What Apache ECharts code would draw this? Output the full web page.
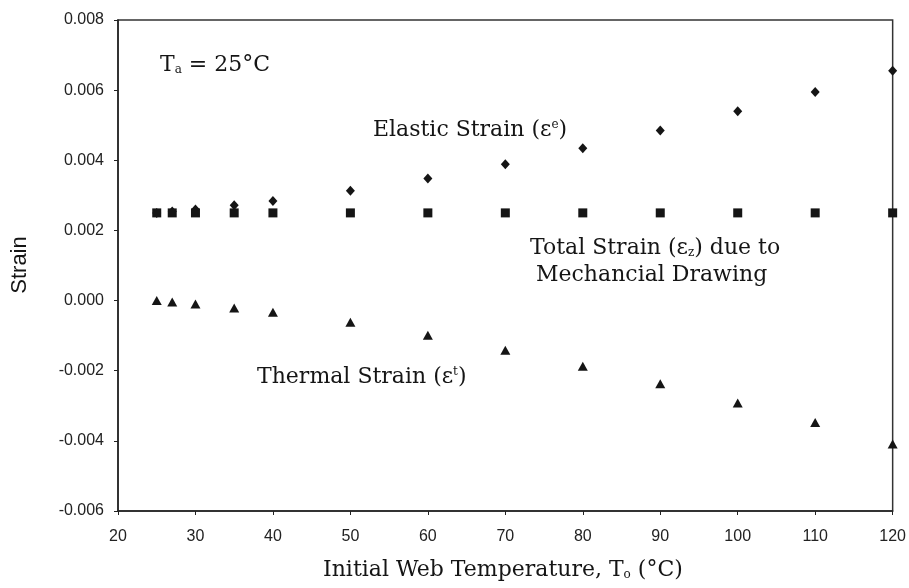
<!DOCTYPE html>
<html>
<head>
<meta charset="utf-8">
<script src="https://cdn.jsdelivr.net/npm/echarts@6/dist/echarts.min.js"></script>
<style>
  html, body { margin: 0; padding: 0; background: #fff; }
  #chart { width: 909px; height: 588px; }
</style>
</head>
<body>
<div id="chart"></div>
<script>
// Initial web temperature (°C)
const temperatures = [25, 27, 30, 35, 40, 50, 60, 70, 80, 90, 100, 110, 120];
// Strain components
const totalStrain   = [0.0025, 0.0025, 0.0025, 0.0025, 0.0025, 0.0025, 0.0025, 0.0025, 0.0025, 0.0025, 0.0025, 0.0025, 0.0025];
const elasticStrain = [0.0025, 0.00254, 0.0026, 0.00272, 0.00284, 0.00313, 0.00348, 0.00389, 0.00434, 0.00485, 0.0054, 0.00595, 0.00655];
const thermalStrain = [0.0, -0.00004, -0.0001, -0.00021, -0.00033, -0.00062, -0.00099, -0.00142, -0.00187, -0.00237, -0.00292, -0.00348, -0.00409];

const pairs = ys => temperatures.map((t, i) => [t, ys[i]]);

const serif = '"DejaVu Serif", "Liberation Serif", serif';
const sans = '"Liberation Sans", Arial, sans-serif';
const ink = '#151515';

// Main-size and script-size text styles for annotations
const rm = { fontFamily: serif, fontSize: 22, fill: ink };
const sub = { fontFamily: serif, fontSize: 12, fill: ink, padding: [10, 0, 0, 0] };
const sup = { fontFamily: serif, fontSize: 12, fill: ink, padding: [0, 0, 10, 0] };

const chart = echarts.init(document.getElementById('chart'));
chart.setOption({
  animation: false,
  backgroundColor: '#fff',
  grid: {
    left: 118, right: 14, top: 20, bottom: 77,
    show: true, borderColor: '#333', borderWidth: 1.5, backgroundColor: 'transparent'
  },
  xAxis: {
    type: 'value', min: 20, max: 120, interval: 10,
    axisLine: { onZero: false, lineStyle: { color: '#222', width: 1.5 } },
    axisTick: { show: true, inside: false, length: 4, lineStyle: { color: '#222' } },
    axisLabel: { color: '#222', fontFamily: sans, fontSize: 16, margin: 18 },
    splitLine: { show: false }
  },
  yAxis: {
    type: 'value', min: -0.006, max: 0.008, interval: 0.002,
    axisLine: { show: true, onZero: false, lineStyle: { color: '#222', width: 1.5 } },
    axisTick: { show: true, inside: false, length: 4, lineStyle: { color: '#222' } },
    axisLabel: { color: '#222', fontFamily: sans, fontSize: 16, margin: 14,
                 formatter: v => v.toFixed(3) },
    splitLine: { show: false }
  },
  series: [
    { name: 'Total', type: 'scatter', data: pairs(totalStrain),
      symbol: 'rect', symbolSize: 9, itemStyle: { color: ink, opacity: 1 }, z: 3 },
    { name: 'Elastic', type: 'scatter', data: pairs(elasticStrain),
      symbol: 'diamond', symbolSize: [9, 10], itemStyle: { color: ink, opacity: 1 }, z: 2 },
    { name: 'Thermal', type: 'scatter', data: pairs(thermalStrain),
      symbol: 'triangle', symbolSize: [10, 9], itemStyle: { color: ink, opacity: 1 }, z: 2 }
  ],
  graphic: [
    { type: 'text', left: 160, top: 54, style: {
        rich: { m: rm, s: sub }, text: '{m|T}{s|a}{m| = 25°C}'
    } },
    { type: 'text', left: 373, top: 119, style: {
        rich: { m: rm, p: sup }, text: '{m|Elastic Strain (ε}{p|e}{m|)}'
    } },
    { type: 'text', left: 530, top: 237, style: {
        rich: { m: rm, s: sub }, text: '{m|Total Strain (ε}{s|z}{m|) due to}'
    } },
    { type: 'text', left: 536, top: 264, style: {
        rich: { m: rm }, text: '{m|Mechancial Drawing}'
    } },
    { type: 'text', left: 257, top: 366, style: {
        rich: { m: rm, p: sup }, text: '{m|Thermal Strain (ε}{p|t}{m|)}'
    } },
    { type: 'text', left: 323, top: 559, style: {
        rich: { m: rm, s: sub }, text: '{m|Initial Web Temperature, T}{s|o}{m| (°C)}'
    } },
    { type: 'text', x: 20, y: 265, rotation: Math.PI / 2, style: {
        fontFamily: sans, fontSize: 22, fill: ink,
        text: 'Strain', align: 'center', verticalAlign: 'middle'
    } }
  ]
});
</script>
</body>
</html>
